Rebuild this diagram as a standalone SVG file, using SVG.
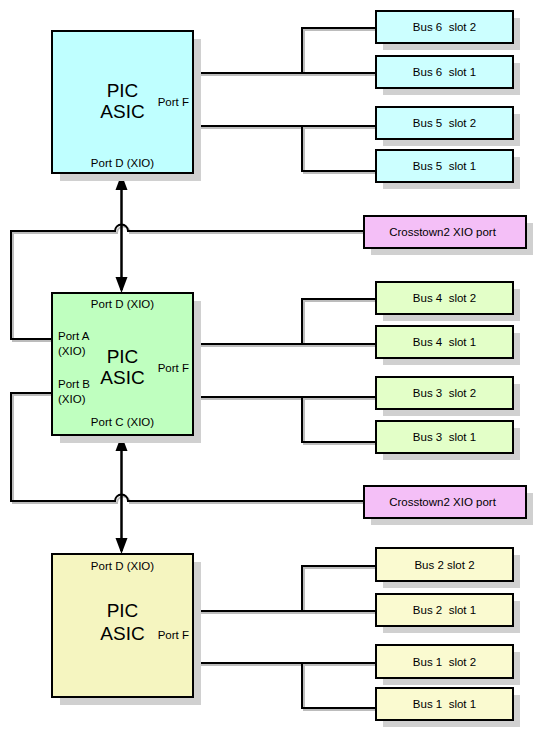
<svg xmlns="http://www.w3.org/2000/svg" width="542" height="738" viewBox="0 0 542 738">
<style>
  text { font-family: "Liberation Sans", Arial, sans-serif; fill: #000; }
  .big { font-size: 19px; text-anchor: middle; }
  .port { font-size: 11.5px; }
  .mid { text-anchor: middle; }
  .end { text-anchor: end; }
  .lbl { font-size: 11.5px; text-anchor: middle; white-space: pre; }
  .box { stroke: #000; stroke-width: 2; }
  .shadow { fill: #d0d0d0; stroke: none; }
  .wire { fill: none; stroke: #000; stroke-width: 2; }
  .wsh { fill: none; stroke: #bcbcbc; stroke-width: 2; }
  .arrow { fill: none; stroke: #000; stroke-width: 2.5; marker-start: url(#ah); marker-end: url(#ah); }
  .cyan { fill: #bfffff; }
  .cyanl { fill: #ccffff; }
  .green { fill: #bfffbf; }
  .greenl { fill: #e3ffc8; }
  .yel { fill: #f5f5c0; }
  .yell { fill: #fafad0; }
  .pink { fill: #f4bff7; }
</style>
<defs>
  <marker id="ah" markerUnits="userSpaceOnUse" viewBox="-14 -7 18 14" refX="0" refY="0" markerWidth="18" markerHeight="14" orient="auto-start-reverse">
    <path d="M3,0 L-13,-6 L-13,6 Z" fill="#000"/>
  </marker>
</defs>

<g id="connectors">
  <g transform="translate(2,2)">
    <path class="wsh" d="M193,73 H376 M302,73 V28 H376 M193,126 H376 M302,126 V171 H376"/>
    <path class="wsh" d="M193,344 H376 M302,344 V299 H376 M193,397 H376 M302,397 V442 H376"/>
    <path class="wsh" d="M193,611 H376 M302,611 V566 H376 M193,663 H376 M302,663 V708 H376"/>
    <path class="wsh" d="M364,231 H128 A6.5,6.5 0 0 0 115,231 H11 V339 H52"/>
    <path class="wsh" d="M364,501 H128 A6.5,6.5 0 0 0 115,501 H11 V393 H52"/>
  </g>
  <path class="wire" d="M193,73 H376 M302,73 V28 H376 M193,126 H376 M302,126 V171 H376"/>
  <path class="wire" d="M193,344 H376 M302,344 V299 H376 M193,397 H376 M302,397 V442 H376"/>
  <path class="wire" d="M193,611 H376 M302,611 V566 H376 M193,663 H376 M302,663 V708 H376"/>
  <path class="wire" d="M364,231 H128 A6.5,6.5 0 0 0 115,231 H11 V339 H52"/>
  <path class="wire" d="M364,501 H128 A6.5,6.5 0 0 0 115,501 H11 V393 H52"/>
  <line class="arrow" x1="121.5" y1="177" x2="121.5" y2="290"/>
  <line class="arrow" x1="121.5" y1="438" x2="121.5" y2="551"/>
</g>

<g id="pic-top">
  <rect class="shadow" x="60" y="39" width="141" height="142"/>
  <rect class="box cyan" x="52" y="31" width="141" height="142"/>
  <text class="big" x="122.5" y="97">PIC</text>
  <text class="big" x="122.5" y="118">ASIC</text>
  <text class="port end" x="189" y="106">Port F</text>
  <text class="port mid" x="122.5" y="167">Port D (XIO)</text>
</g>

<g id="pic-mid">
  <rect class="shadow" x="60" y="301" width="141" height="142"/>
  <rect class="box green" x="52" y="293" width="141" height="142"/>
  <text class="port mid" x="122.5" y="308">Port D (XIO)</text>
  <text class="port" x="58" y="340">Port A</text>
  <text class="port" x="58" y="355">(XIO)</text>
  <text class="big" x="122.5" y="363">PIC</text>
  <text class="big" x="122.5" y="384">ASIC</text>
  <text class="port end" x="189" y="372">Port F</text>
  <text class="port" x="58" y="388">Port B</text>
  <text class="port" x="58" y="403">(XIO)</text>
  <text class="port mid" x="122.5" y="426">Port C (XIO)</text>
</g>

<g id="pic-bot">
  <rect class="shadow" x="60" y="562" width="141" height="143"/>
  <rect class="box yel" x="52" y="554" width="141" height="143"/>
  <text class="port mid" x="122.5" y="570">Port D (XIO)</text>
  <text class="big" x="122.5" y="617">PIC</text>
  <text class="big" x="122.5" y="640">ASIC</text>
  <text class="port end" x="189" y="639">Port F</text>
</g>

<g id="bus6-slot2"><rect class="shadow" x="383" y="18" width="137" height="32"/><rect class="box cyanl" x="376" y="11" width="137" height="32"/><text class="lbl" x="444.5" y="31" xml:space="preserve">Bus 6  slot 2</text></g>
<g id="bus6-slot1"><rect class="shadow" x="383" y="63" width="137" height="32"/><rect class="box cyanl" x="376" y="56" width="137" height="32"/><text class="lbl" x="444.5" y="76" xml:space="preserve">Bus 6  slot 1</text></g>
<g id="bus5-slot2"><rect class="shadow" x="383" y="114" width="137" height="32"/><rect class="box cyanl" x="376" y="107" width="137" height="32"/><text class="lbl" x="444.5" y="127" xml:space="preserve">Bus 5  slot 2</text></g>
<g id="bus5-slot1"><rect class="shadow" x="383" y="157" width="137" height="32"/><rect class="box cyanl" x="376" y="150" width="137" height="32"/><text class="lbl" x="444.5" y="170" xml:space="preserve">Bus 5  slot 1</text></g>

<g id="crosstown-1"><rect class="shadow" x="371" y="223" width="162" height="32"/><rect class="box pink" x="364" y="216" width="162" height="32"/><text class="lbl" x="442.5" y="236">Crosstown2 XIO port</text></g>

<g id="bus4-slot2"><rect class="shadow" x="383" y="289" width="137" height="32"/><rect class="box greenl" x="376" y="282" width="137" height="32"/><text class="lbl" x="444.5" y="302" xml:space="preserve">Bus 4  slot 2</text></g>
<g id="bus4-slot1"><rect class="shadow" x="383" y="333" width="137" height="32"/><rect class="box greenl" x="376" y="326" width="137" height="32"/><text class="lbl" x="444.5" y="346" xml:space="preserve">Bus 4  slot 1</text></g>
<g id="bus3-slot2"><rect class="shadow" x="383" y="384" width="137" height="32"/><rect class="box greenl" x="376" y="377" width="137" height="32"/><text class="lbl" x="444.5" y="397" xml:space="preserve">Bus 3  slot 2</text></g>
<g id="bus3-slot1"><rect class="shadow" x="383" y="428" width="137" height="32"/><rect class="box greenl" x="376" y="421" width="137" height="32"/><text class="lbl" x="444.5" y="441" xml:space="preserve">Bus 3  slot 1</text></g>

<g id="crosstown-2"><rect class="shadow" x="371" y="493" width="162" height="32"/><rect class="box pink" x="364" y="486" width="162" height="32"/><text class="lbl" x="442.5" y="506">Crosstown2 XIO port</text></g>

<g id="bus2-slot2"><rect class="shadow" x="383" y="555" width="137" height="33"/><rect class="box yell" x="376" y="548" width="137" height="33"/><text class="lbl" x="444.5" y="568.5">Bus 2 slot 2</text></g>
<g id="bus2-slot1"><rect class="shadow" x="383" y="601" width="137" height="32"/><rect class="box yell" x="376" y="594" width="137" height="32"/><text class="lbl" x="444.5" y="614" xml:space="preserve">Bus 2  slot 1</text></g>
<g id="bus1-slot2"><rect class="shadow" x="383" y="652" width="137" height="33"/><rect class="box yell" x="376" y="645" width="137" height="33"/><text class="lbl" x="444.5" y="665.5" xml:space="preserve">Bus 1  slot 2</text></g>
<g id="bus1-slot1"><rect class="shadow" x="383" y="695" width="137" height="32"/><rect class="box yell" x="376" y="688" width="137" height="32"/><text class="lbl" x="444.5" y="708" xml:space="preserve">Bus 1  slot 1</text></g>
</svg>
